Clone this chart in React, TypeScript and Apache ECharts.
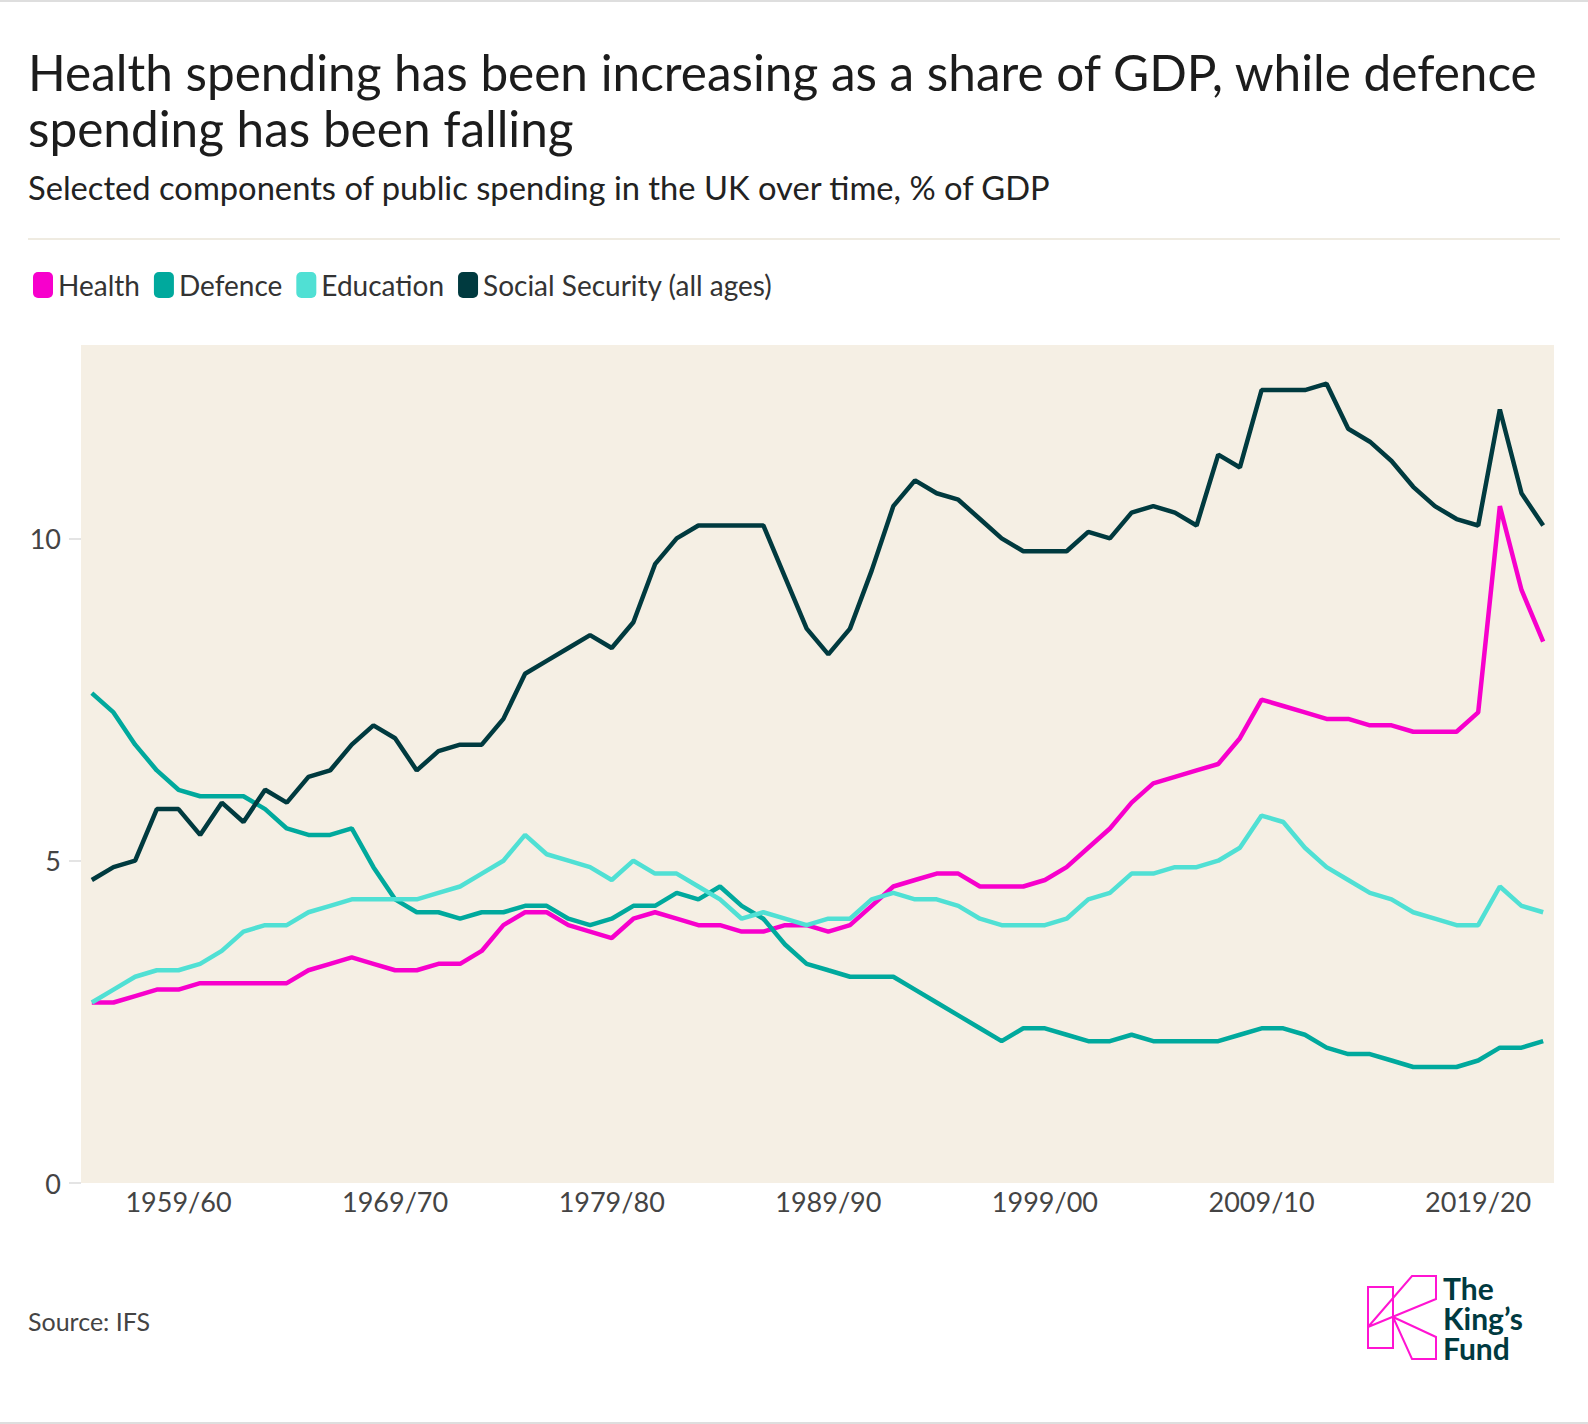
import React, { useEffect, useRef } from "react";
import * as echarts from "echarts";

const categories = [
  "1955/56","1956/57","1957/58","1958/59","1959/60","1960/61","1961/62","1962/63","1963/64","1964/65",
  "1965/66","1966/67","1967/68","1968/69","1969/70","1970/71","1971/72","1972/73","1973/74","1974/75",
  "1975/76","1976/77","1977/78","1978/79","1979/80","1980/81","1981/82","1982/83","1983/84","1984/85",
  "1985/86","1986/87","1987/88","1988/89","1989/90","1990/91","1991/92","1992/93","1993/94","1994/95",
  "1995/96","1996/97","1997/98","1998/99","1999/00","2000/01","2001/02","2002/03","2003/04","2004/05",
  "2005/06","2006/07","2007/08","2008/09","2009/10","2010/11","2011/12","2012/13","2013/14","2014/15",
  "2015/16","2016/17","2017/18","2018/19","2019/20","2020/21","2021/22","2022/23"
];

const health = [
  2.8, 2.8, 2.9, 3.0, 3.0, 3.1, 3.1, 3.1, 3.1, 3.1, 3.3, 3.4, 3.5, 3.4, 3.3, 3.3, 3.4, 3.4, 3.6, 4.0, 4.2, 4.2, 4.0,
  3.9, 3.8, 4.1, 4.2, 4.1, 4.0, 4.0, 3.9, 3.9, 4.0, 4.0, 3.9, 4.0, 4.3, 4.6, 4.7, 4.8, 4.8, 4.6, 4.6, 4.6,
  4.7, 4.9, 5.2, 5.5, 5.9, 6.2, 6.3, 6.4, 6.5, 6.9, 7.5, 7.4, 7.3, 7.2, 7.2, 7.1, 7.1, 7.0, 7.0, 7.0, 7.3, 10.5, 9.2, 8.4
];

const defence = [
  7.6, 7.3, 6.8, 6.4, 6.1, 6.0, 6.0, 6.0, 5.8, 5.5, 5.4, 5.4, 5.5, 4.9, 4.4, 4.2, 4.2, 4.1, 4.2, 4.2, 4.3, 4.3, 4.1,
  4.0, 4.1, 4.3, 4.3, 4.5, 4.4, 4.6, 4.3, 4.1, 3.7, 3.4, 3.3, 3.2, 3.2, 3.2, 3.0, 2.8, 2.6, 2.4, 2.2, 2.4,
  2.4, 2.3, 2.2, 2.2, 2.3, 2.2, 2.2, 2.2, 2.2, 2.3, 2.4, 2.4, 2.3, 2.1, 2.0, 2.0, 1.9, 1.8, 1.8, 1.8, 1.9, 2.1, 2.1, 2.2
];

const education = [
  2.8, 3.0, 3.2, 3.3, 3.3, 3.4, 3.6, 3.9, 4.0, 4.0, 4.2, 4.3, 4.4, 4.4, 4.4, 4.4, 4.5, 4.6, 4.8, 5.0, 5.4, 5.1, 5.0,
  4.9, 4.7, 5.0, 4.8, 4.8, 4.6, 4.4, 4.1, 4.2, 4.1, 4.0, 4.1, 4.1, 4.4, 4.5, 4.4, 4.4, 4.3, 4.1, 4.0, 4.0,
  4.0, 4.1, 4.4, 4.5, 4.8, 4.8, 4.9, 4.9, 5.0, 5.2, 5.7, 5.6, 5.2, 4.9, 4.7, 4.5, 4.4, 4.2, 4.1, 4.0, 4.0, 4.6, 4.3, 4.2
];

const socialSecurity = [
  4.7, 4.9, 5.0, 5.8, 5.8, 5.4, 5.9, 5.6, 6.1, 5.9, 6.3, 6.4, 6.8, 7.1, 6.9, 6.4, 6.7, 6.8, 6.8, 7.2, 7.9, 8.1, 8.3,
  8.5, 8.3, 8.7, 9.6, 10.0, 10.2, 10.2, 10.2, 10.2, 9.4, 8.6, 8.2, 8.6, 9.5, 10.5, 10.9, 10.7, 10.6, 10.3, 10.0, 9.8,
  9.8, 9.8, 10.1, 10.0, 10.4, 10.5, 10.4, 10.2, 11.3, 11.1, 12.3, 12.3, 12.3, 12.4, 11.7, 11.5, 11.2, 10.8, 10.5, 10.3, 10.2, 12.0, 10.7, 10.2
];

const seriesNames = ["Health", "Defence", "Education", "Social Security (all ages)"];
const seriesColors = ["#f700cc", "#00a99d", "#50e0d4", "#003a3f"];
const seriesData = [health, defence, education, socialSecurity];

const logoLines = ["The", "King\u2019s", "Fund"];

const FONT = "Lato";

export default function App() {
  const ref = useRef<HTMLDivElement>(null);

  useEffect(() => {
    document.body.style.margin = "0";
    const chart = echarts.init(ref.current as HTMLDivElement, null, { renderer: "svg" });

    const logoStroke = { stroke: "#ff14d2", lineWidth: 2, fill: "none" };

    chart.setOption({
      animation: false,
      backgroundColor: "#ffffff",
      textStyle: { fontFamily: FONT },
      legend: {
        left: 28,
        top: 266,
        itemWidth: 20,
        itemHeight: 26,
        itemGap: 14,
        icon: "roundRect",
        selectedMode: false,
        data: seriesNames,
        textStyle: { fontFamily: FONT, fontSize: 28, color: "#333333" },
      },
      grid: {
        left: 81,
        right: 34,
        top: 345,
        bottom: 241,
        show: true,
        backgroundColor: "#f5efe4",
        borderWidth: 0,
      },
      xAxis: {
        type: "category",
        data: categories,
        boundaryGap: true,
        axisLine: { show: false },
        axisTick: { show: false },
        splitLine: { show: false },
        axisLabel: {
          interval: (i: number) => i % 10 === 4,
          fontFamily: FONT,
          fontSize: 27,
          color: "#444444",
          margin: 5,
        },
      },
      yAxis: {
        type: "value",
        min: 0,
        max: 13,
        interval: 5,
        axisLine: { show: false },
        axisTick: { show: true, length: 12, lineStyle: { color: "#e4e4e4", width: 2 } },
        splitLine: { show: false },
        axisLabel: {
          showMaxLabel: false,
          fontFamily: FONT,
          fontSize: 27,
          color: "#444444",
          margin: 20,
        },
      },
      series: seriesNames.map((name, k) => ({
        name,
        type: "line",
        data: seriesData[k],
        symbol: "none",
        smooth: false,
        lineStyle: { width: 4.5, color: seriesColors[k] },
        itemStyle: { color: seriesColors[k] },
        emphasis: { disabled: true },
      })),
      graphic: [
        { type: "rect", shape: { x: 0, y: 0, width: 1588, height: 2 }, style: { fill: "#dedede" } },
        { type: "rect", shape: { x: 0, y: 1422, width: 1588, height: 2 }, style: { fill: "#dedede" } },
        {
          type: "text",
          x: 28,
          y: 72,
          style: {
            text: "Health spending has been increasing as a share of GDP, while defence",
            fontFamily: FONT,
            fontSize: 49.5,
            fill: "#1c1c1c",
            verticalAlign: "middle",
          },
        },
        {
          type: "text",
          x: 28,
          y: 128,
          style: {
            text: "spending has been falling",
            fontFamily: FONT,
            fontSize: 49.5,
            fill: "#1c1c1c",
            verticalAlign: "middle",
          },
        },
        {
          type: "text",
          x: 28,
          y: 187,
          style: {
            text: "Selected components of public spending in the UK over time, % of GDP",
            fontFamily: FONT,
            fontSize: 32.7,
            fill: "#222222",
            verticalAlign: "middle",
          },
        },
        {
          type: "line",
          shape: { x1: 28, y1: 239, x2: 1560, y2: 239 },
          style: { stroke: "#efebe1", lineWidth: 2 },
        },
        {
          type: "text",
          x: 28,
          y: 1321,
          style: {
            text: "Source: IFS",
            fontFamily: FONT,
            fontSize: 25,
            fill: "#444444",
            verticalAlign: "middle",
          },
        },
        {
          type: "group",
          children: [
            { type: "rect", shape: { x: 1368, y: 1287, width: 25, height: 61 }, style: logoStroke },
            {
              type: "polyline",
              shape: { points: [[1368, 1327], [1412, 1276], [1436, 1276], [1436, 1299], [1368, 1327]] },
              style: logoStroke,
            },
            {
              type: "polyline",
              shape: { points: [[1393, 1317], [1436, 1337], [1436, 1359], [1412, 1359], [1393, 1317]] },
              style: logoStroke,
            },
          ],
        },
        {
          type: "group",
          x: 1443,
          y: 1318,
          scaleX: 1.25,
          scaleY: 1.25,
          children: logoLines.map((t, k) => ({
            type: "text",
            x: 0,
            y: (k - 1) * 23.7,
            style: {
              text: t,
              fontFamily: FONT,
              fontWeight: "bold",
              fontSize: 24,
              fill: "#003a40",
              verticalAlign: "middle",
            },
          })),
        },
      ],
    });

    return () => chart.dispose();
  }, []);

  return <div ref={ref} style={{ width: 1588, height: 1424 }} />;
}
